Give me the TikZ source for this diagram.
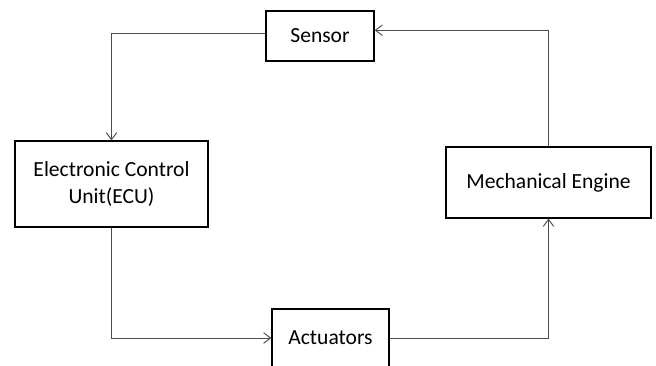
\documentclass[tikz,border=0pt]{standalone}
\usepackage{fontspec}
\setmainfont{Carlito}
\usetikzlibrary{arrows,arrows.meta,positioning}

\begin{document}
\begin{tikzpicture}[x=0.03cm,y=-0.03cm,
    block/.style={draw,line width=1.1pt,align=center,font=\fontsize{18.4}{23}\selectfont},
    link/.style={draw=black!70,line width=0.8pt,-{Straight Barb[length=6pt,width=9pt]}}]
      \useasboundingbox (0,0) rectangle (656,365);
      \clip (0,0) rectangle (656,365);

      \node[block,minimum width=3.24cm,minimum height=1.5cm] (sensor) at (320,36) {Sensor};
      \node[block,minimum width=5.79cm,minimum height=2.58cm] (ecu) at (111.5,184) {Electronic Control\\Unit(ECU)};
      \node[block,minimum width=3.51cm,minimum height=1.74cm] (act) at (330.5,338) {Actuators};
      \node[block,minimum width=6.15cm,minimum height=2.13cm] (mech) at (548.5,182.5) {Mechanical Engine};

      \draw[link] (sensor.177) -| (ecu);
      \draw[link] (ecu) |- (act);
      \draw[link] (act) -| (mech);
      \draw[link] (mech) |- (sensor.6);
    \end{tikzpicture}
\end{document}
